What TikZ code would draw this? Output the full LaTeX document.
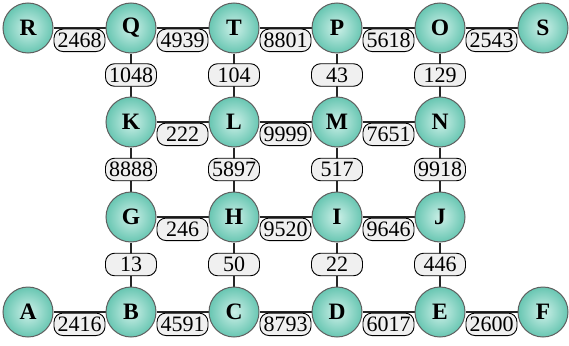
\documentclass[tikz,border=0pt]{standalone}
\usepackage{fontspec}
\setmainfont{Liberation Serif}
\usetikzlibrary{backgrounds}
\definecolor{ballin}{RGB}{205,240,232}
\definecolor{ballout}{RGB}{104,198,178}
\definecolor{ballrim}{RGB}{95,95,95}
\definecolor{labfill}{RGB}{240,240,240}
\tikzset{
  vert/.style={circle, minimum size=50pt, inner sep=0pt, draw=ballrim, line width=1pt,
    inner color=ballin, outer color=ballout, font=\fontsize{23.5}{26}\selectfont\bfseries},
  wlab/.style={draw=black, fill=labfill, rounded corners=9pt, line width=0.9pt,
    minimum width=51pt, minimum height=22.5pt, inner xsep=3pt, inner ysep=1.5pt,
    font=\fontsize{22}{24}\selectfont},
  hlab/.style={wlab, anchor=north, yshift=-0.6pt},
  vlab/.style={wlab},
  edge/.style={draw=black!85, line width=1.1pt}
}
\begin{document}
\begin{tikzpicture}[x=1pt,y=-1pt]
\useasboundingbox (0,0) rectangle (569,345);
% row 0
\node[vert] (R) at (28,28) {R};
\node[vert] (Q) at (131,28) {Q};
\node[vert] (T) at (234,28) {T};
\node[vert] (P) at (337,28) {P};
\node[vert] (O) at (440,28) {O};
\node[vert] (S) at (543,28) {S};
% row 1
\node[vert] (K) at (131,122) {K};
\node[vert] (L) at (234,122) {L};
\node[vert] (M) at (337,122) {M};
\node[vert] (N) at (440,122) {N};
% row 2
\node[vert] (G) at (131,217) {G};
\node[vert] (H) at (234,217) {H};
\node[vert] (I) at (337,217) {I};
\node[vert] (J) at (440,217) {J};
% row 3
\node[vert] (A) at (28,312) {A};
\node[vert] (B) at (131,312) {B};
\node[vert] (C) at (234,312) {C};
\node[vert] (D) at (337,312) {D};
\node[vert] (E) at (440,312) {E};
\node[vert] (F) at (543,312) {F};
\begin{scope}[on background layer]
% horizontal edges
\draw[edge] (R) -- node[hlab]{2468} (Q);
\draw[edge] (Q) -- node[hlab]{4939} (T);
\draw[edge] (T) -- node[hlab]{8801} (P);
\draw[edge] (P) -- node[hlab]{5618} (O);
\draw[edge] (O) -- node[hlab]{2543} (S);
\draw[edge] (K) -- node[hlab]{222} (L);
\draw[edge] (L) -- node[hlab]{9999} (M);
\draw[edge] (M) -- node[hlab]{7651} (N);
\draw[edge] (G) -- node[hlab]{246} (H);
\draw[edge] (H) -- node[hlab]{9520} (I);
\draw[edge] (I) -- node[hlab]{9646} (J);
\draw[edge] (A) -- node[hlab]{2416} (B);
\draw[edge] (B) -- node[hlab]{4591} (C);
\draw[edge] (C) -- node[hlab]{8793} (D);
\draw[edge] (D) -- node[hlab]{6017} (E);
\draw[edge] (E) -- node[hlab]{2600} (F);
% vertical edges
\draw[edge] (Q) -- node[vlab]{1048} (K);
\draw[edge] (T) -- node[vlab]{104} (L);
\draw[edge] (P) -- node[vlab]{43} (M);
\draw[edge] (O) -- node[vlab]{129} (N);
\draw[edge] (K) -- node[vlab]{8888} (G);
\draw[edge] (L) -- node[vlab]{5897} (H);
\draw[edge] (M) -- node[vlab]{517} (I);
\draw[edge] (N) -- node[vlab]{9918} (J);
\draw[edge] (G) -- node[vlab]{13} (B);
\draw[edge] (H) -- node[vlab]{50} (C);
\draw[edge] (I) -- node[vlab]{22} (D);
\draw[edge] (J) -- node[vlab]{446} (E);
\end{scope}
\end{tikzpicture}
\end{document}
